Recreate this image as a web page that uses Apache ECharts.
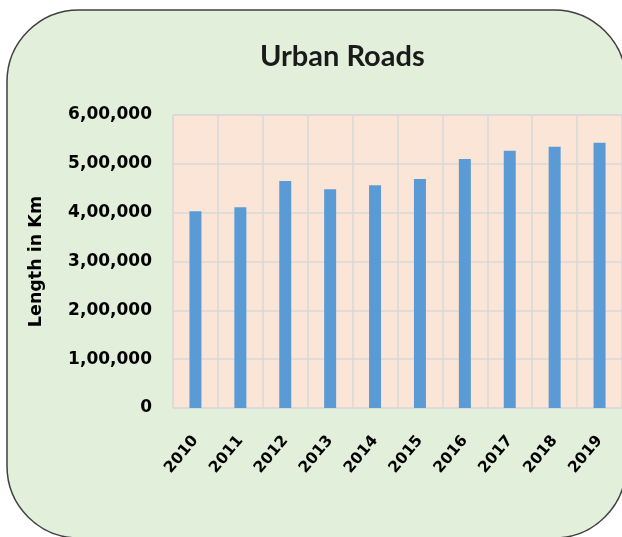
<!DOCTYPE html>
<html>
<head>
<meta charset="utf-8">
<title>Urban Roads</title>
<script src="https://cdn.jsdelivr.net/npm/echarts@6/dist/echarts.min.js"></script>
<style>
	html, body { margin: 0; padding: 0; background: #fff; }
	#bar1 { width: 622px; height: 537px; }
</style>
</head>
<body>
<div id="bar1"></div>
<script>
	var years = ['2010', '2011', '2012', '2013', '2014', '2015', '2016', '2017', '2018', '2019'];
	var urbanRoads = [403000, 411000, 465000, 448000, 456000, 469000, 510000, 527000, 535000, 543000];
	var yTickLabels = ['0', '1,00,000', '2,00,000', '3,00,000', '4,00,000', '5,00,000', '6,00,000'];

	var bar1 = echarts.init(document.getElementById('bar1'));

	var labelFont = 'DejaVu Sans';

	option = {
	    backgroundColor: '#fff',
	    title: {
	        text: 'Urban Roads',
	        left: 255,
	        top: 37,
	        textStyle: {
	            color: '#1a1a1a',
	            fontSize: 29,
	            fontWeight: 'bold',
	            fontFamily: 'Lato'
	        }
	    },
	    graphic: [{
	        type: 'rect',
	        z: -10,
	        shape: { x: 7, y: 10, width: 619, height: 528, r: 72 },
	        style: {
	            fill: '#e2efda',
	            stroke: '#404040',
	            lineWidth: 1.5
	        }
	    }],
	    grid: {
	        left: 173,
	        top: 115,
	        width: 449,
	        height: 293,
	        show: true,
	        backgroundColor: '#fbe5d6',
	        borderColor: '#d9d9d9',
	        borderWidth: 1
	    },
	    xAxis: {
	        type: 'category',
	        data: years,
	        axisTick: { show: false },
	        axisLine: { show: false },
	        splitLine: {
	            show: true,
	            lineStyle: { color: '#d9d9d9', width: 1.5 }
	        },
	        axisLabel: {
	            rotate: 50,
	            margin: 30,
	            color: '#000',
	            fontSize: 15.5,
	            fontWeight: 'bold',
	            fontFamily: labelFont
	        }
	    },
	    yAxis: {
	        type: 'value',
	        min: 0,
	        max: 600000,
	        interval: 100000,
	        name: 'Length in Km',
	        nameLocation: 'middle',
	        nameGap: 128,
	        nameTextStyle: {
	            color: '#000',
	            fontSize: 17.5,
	            fontWeight: 'bold',
	            fontFamily: labelFont
	        },
	        axisLabel: {
	            margin: 21,
	            color: '#000',
	            fontSize: 17,
	            fontWeight: 'bold',
	            fontFamily: labelFont,
	            formatter: function(v) {
	                return yTickLabels[Math.round(v / 100000)];
	            }
	        },
	        splitLine: {
	            show: true,
	            lineStyle: { color: '#d9d9d9', width: 1.5 }
	        },
	        axisTick: { show: false },
	        axisLine: { show: false }
	    },
	    series: [{
	        name: 'Urban Roads',
	        type: 'bar',
	        barWidth: 12,
	        itemStyle: { color: '#5b9bd5' },
	        data: urbanRoads
	    }]
	};

	bar1.setOption(option);

	window.onresize = function() {
		bar1.resize();
	}
</script>
</body>
</html>
